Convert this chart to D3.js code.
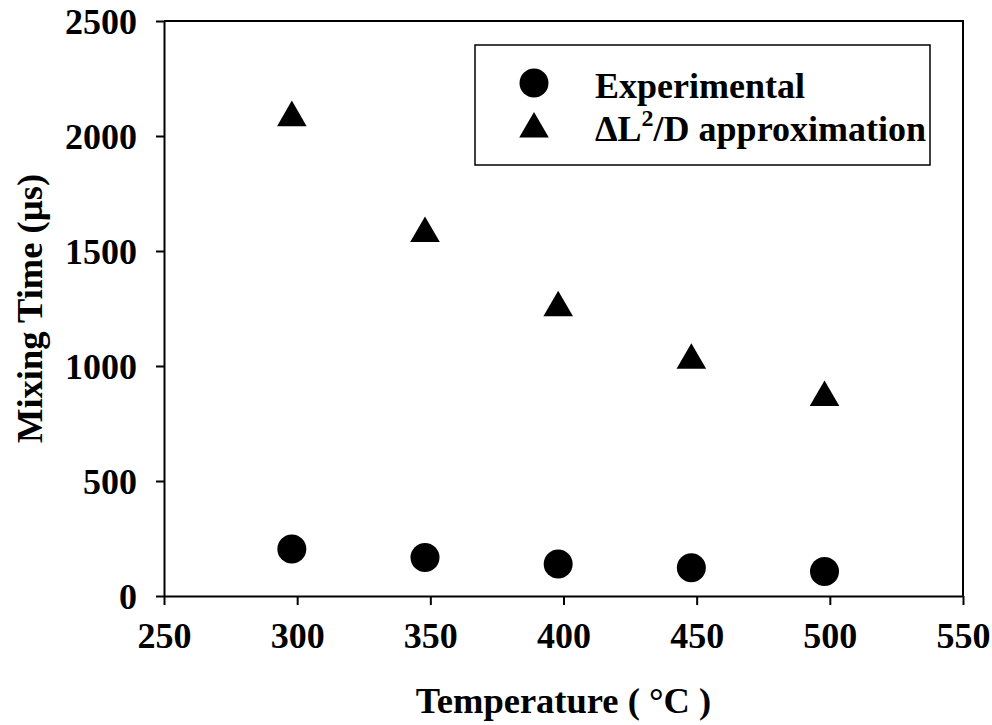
<!DOCTYPE html>
<html>
<head>
    <title>Mixing Time vs Temperature</title>
    <script src="https://d3js.org/d3.v7.min.js"></script>
    <style>
        body { margin: 0; background: #fff; }
        text { font-family: "Liberation Serif", "Times New Roman", serif; font-weight: bold; fill: #000; }
    </style>
</head>
<body>
    <div id="chart"></div>
    <script>
        // Data
        var temperatures = [298, 348, 398, 448, 498];
        var experimental = [204, 167, 139, 123, 107];
        var approximation = [2080, 1576, 1253, 1025, 863];
        var xTicks = [250, 300, 350, 400, 450, 500, 550];
        var yTicks = [0, 500, 1000, 1500, 2000, 2500];

        var W = 992, H = 725;
        var margin = { top: 21, right: 29, bottom: 129, left: 164 };
        var width = W - margin.left - margin.right;
        var height = H - margin.top - margin.bottom;

        var svg = d3.select('#chart')
            .append('svg')
            .attr('width', W)
            .attr('height', H);

        var g = svg.append('g')
            .attr('transform', 'translate(' + margin.left + ',' + margin.top + ')');

        var x = d3.scaleLinear().domain([250, 550]).range([0, width]);
        var y = d3.scaleLinear().domain([0, 2500]).range([height, 0]);

        // frame (top and right)
        g.append('path')
            .attr('d', 'M0,0H' + width + 'V' + height)
            .attr('fill', 'none')
            .attr('stroke', '#000')
            .attr('stroke-width', 2);

        // x axis
        var xAxis = g.append('g')
            .attr('transform', 'translate(0,' + height + ')')
            .call(d3.axisBottom(x).tickValues(xTicks).tickFormat(d3.format('d'))
                .tickSize(9).tickPadding(17).tickSizeOuter(0));
        // y axis
        var yAxis = g.append('g')
            .call(d3.axisLeft(y).tickValues(yTicks).tickFormat(d3.format('d'))
                .tickSize(8).tickPadding(19).tickSizeOuter(0));

        [xAxis, yAxis].forEach(function(a) {
            a.select('.domain').attr('stroke', '#000').attr('stroke-width', 2);
            a.selectAll('.tick line').attr('stroke', '#000').attr('stroke-width', 2);
            a.selectAll('.tick text')
                .style('font-family', '"Liberation Serif", serif')
                .style('font-weight', 'bold')
                .style('font-size', '36px')
                .attr('fill', '#000');
        });
        yAxis.selectAll('.tick text').attr('dy', '0.34em');
        xAxis.selectAll('.tick text').attr('dy', '0.71em');

        // triangles
        var tri = d3.symbol().type(d3.symbolTriangle).size(380);
        g.selectAll('.tri')
            .data(temperatures)
            .enter()
            .append('path')
            .attr('class', 'tri')
            .attr('d', tri)
            .attr('transform', function(d, i) {
                return 'translate(' + x(d) + ',' + y(approximation[i]) + ')';
            })
            .attr('fill', '#000');

        // circles
        g.selectAll('.dot')
            .data(temperatures)
            .enter()
            .append('circle')
            .attr('class', 'dot')
            .attr('cx', function(d) { return x(d); })
            .attr('cy', function(d, i) { return y(experimental[i]); })
            .attr('r', 14.5)
            .attr('fill', '#000');

        // axis titles
        svg.append('text')
            .attr('x', margin.left + width / 2)
            .attr('y', 713)
            .attr('text-anchor', 'middle')
            .style('font-size', '36.5px')
            .text('Temperature ( \u00B0C )');

        svg.append('text')
            .attr('transform', 'translate(42,' + (margin.top + height / 2) + ') rotate(-90)')
            .attr('text-anchor', 'middle')
            .style('font-size', '36.5px')
            .text('Mixing Time (\u00B5s)');

        // legend
        var legend = svg.append('g');
        legend.append('rect')
            .attr('x', 475).attr('y', 45)
            .attr('width', 455).attr('height', 120)
            .attr('fill', '#fff')
            .attr('stroke', '#000')
            .attr('stroke-width', 1.5);
        legend.append('circle')
            .attr('cx', 534).attr('cy', 83).attr('r', 14.5)
            .attr('fill', '#000');
        legend.append('path')
            .attr('d', tri)
            .attr('transform', 'translate(534,129)')
            .attr('fill', '#000');
        legend.append('text')
            .attr('x', 595).attr('y', 98)
            .style('font-size', '36px')
            .text('Experimental');
        var t2 = legend.append('text')
            .attr('x', 595).attr('y', 141)
            .style('font-size', '36px');
        t2.append('tspan').text('\u0394L');
        t2.append('tspan').attr('dy', -15).style('font-size', '24px').text('2');
        t2.append('tspan').attr('dy', 15).text('/D approximation');
    </script>
</body>
</html>
